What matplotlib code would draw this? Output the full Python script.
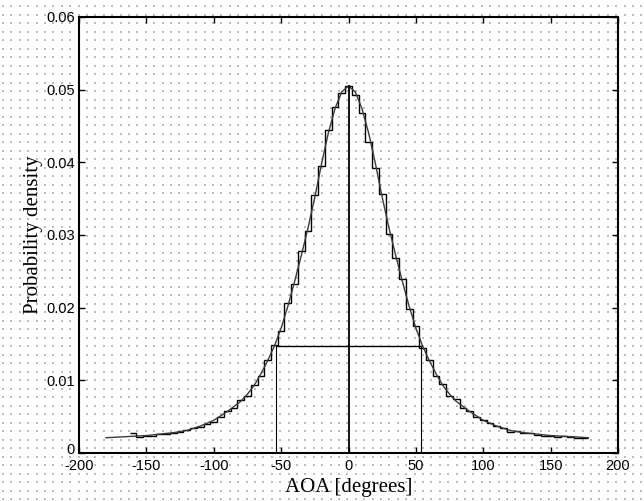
import matplotlib
matplotlib.use("Agg")
import matplotlib.pyplot as plt
import matplotlib.transforms as mtransforms
import numpy as np

plt.rcParams['axes.unicode_minus'] = False

# smooth density curve
curve_deg = [-180, -170, -160, -150, -140, -130, -120, -110, -100, -95, -90, -85, -80, -75,
             -70, -65, -60, -55, -50, -45, -40, -35, -30, -25, -20, -15, -10, -5, 0,
             5, 10, 15, 20, 25, 30, 35, 40, 45, 50, 55, 60, 65, 70, 75, 80, 85, 90, 95,
             100, 110, 120, 130, 140, 150, 160, 170, 178]
curve_val = [0.0021, 0.0022, 0.0023, 0.0024, 0.0026, 0.0028, 0.0031, 0.0037, 0.0045, 0.0051,
             0.0057, 0.0064, 0.0071, 0.0081, 0.0093, 0.0109, 0.0127, 0.0147, 0.0172, 0.0202,
             0.0236, 0.0272, 0.0310, 0.0352, 0.0398, 0.0440, 0.0474, 0.0497, 0.0505,
             0.0497, 0.0474, 0.0440, 0.0398, 0.0352, 0.0310, 0.0272, 0.0236, 0.0202, 0.0172,
             0.0147, 0.0127, 0.0109, 0.0093, 0.0081, 0.0071, 0.0064, 0.0057, 0.0051,
             0.0045, 0.0037, 0.0031, 0.0028, 0.0026, 0.0024, 0.0023, 0.0022, 0.0021]

# histogram, 5 degree bins, centres -160 .. 175
hist_edges = np.arange(-162.5, 180, 5)
hist_val = [
    # -160 .. -115
    0.0027, 0.0022, 0.0023, 0.0024, 0.0026, 0.0026, 0.0028, 0.0029, 0.0031, 0.0034,
    # -110 .. -65
    0.0036, 0.0040, 0.0043, 0.0050, 0.0058, 0.0062, 0.0073, 0.0079, 0.0094, 0.0106,
    # -60 .. -15
    0.0128, 0.0149, 0.0168, 0.0206, 0.0232, 0.0278, 0.0306, 0.0355, 0.0395, 0.0445,
    # -10 .. 5
    0.0476, 0.0496, 0.0505, 0.0492,
    # 10 .. 55
    0.0468, 0.0428, 0.0392, 0.0356, 0.0302, 0.0268, 0.0240, 0.0198, 0.0175, 0.0144,
    # 60 .. 105
    0.0128, 0.0106, 0.0095, 0.0078, 0.0074, 0.0062, 0.0058, 0.0049, 0.0046, 0.0041,
    # 110 .. 155
    0.0037, 0.0034, 0.0029, 0.0030, 0.0028, 0.0027, 0.0025, 0.0024, 0.0024, 0.0022,
    # 160 .. 175
    0.0023, 0.0022, 0.0021, 0.0021,
]

peak = 0.0505
half_lo, half_hi = -54, 54
half_level = 0.0147

fig = plt.figure(figsize=(6.44, 5.01), dpi=100)

# dotted background pattern covering the whole figure
bg = fig.add_axes([0, 0, 1, 1], zorder=0)
bg.set_xlim(0, 644)
bg.set_ylim(0, 501)
gx, gy = np.meshgrid(np.arange(3, 644, 8.4), np.arange(2, 501, 8.5))
bg.scatter(gx.ravel(), gy.ravel(), s=0.6, marker='s', color='#bdbdbd', linewidths=0)
bg.axis('off')

ax = fig.add_axes([79 / 644, 48 / 501, 539 / 644, 436 / 501], zorder=1)
ax.set_facecolor('none')

ax.plot(curve_deg, curve_val, color='#3a3a3a', lw=1.0)
ax.stairs(hist_val, hist_edges, baseline=None, color='black', lw=1.0)

ax.plot([0, 0], [0, peak], color='black', lw=1.3)
ax.plot([half_lo, half_lo], [0, half_level], color='black', lw=0.8)
ax.plot([half_hi, half_hi], [0, half_level], color='black', lw=0.8)
ax.plot([half_lo, half_hi], [half_level, half_level], color='black', lw=1.0)

ax.set_xlim(-200, 200)
ax.set_ylim(0, 0.06)
ax.set_xticks(np.arange(-200, 201, 50))
ax.set_yticks(np.arange(0, 0.061, 0.01))
ax.set_yticklabels(['0', '0.01', '0.02', '0.03', '0.04', '0.05', '0.06'])
ax.tick_params(direction='in', length=4, width=1, top=True, right=True,
               labelsize=10.5, pad=3)
ax.tick_params(axis='x', pad=4)
for lab in ax.get_xticklabels() + ax.get_yticklabels():
    lab.set_family('Liberation Sans')
# lift the "0" label a little, as in the original
zero_lab = ax.get_yticklabels()[0]
zero_lab.set_transform(zero_lab.get_transform() +
                       mtransforms.ScaledTranslation(0, 5 / 100, fig.dpi_scale_trans))
for sp in ax.spines.values():
    sp.set_linewidth(1.5)

ax.set_xlabel('AOA [degrees]', family='Liberation Serif', fontsize=15, labelpad=4)
ax.set_ylabel('Probability density', family='Liberation Serif', fontsize=15, labelpad=2)

fig.savefig('out.png', dpi=100)
